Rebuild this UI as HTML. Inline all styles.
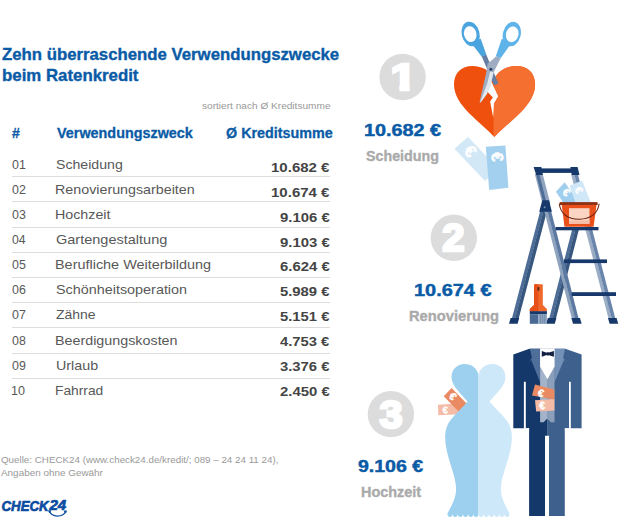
<!DOCTYPE html>
<html lang="de"><head><meta charset="utf-8"><title>Zehn überraschende Verwendungszwecke beim Ratenkredit</title>
<style>
html,body{margin:0;padding:0;background:#fff}
body{width:630px;height:530px;position:relative;overflow:hidden;font-family:'Liberation Sans', sans-serif}
.t{position:absolute;white-space:nowrap;line-height:1;display:block;transform-origin:0 0}
.ln{position:absolute;left:12px;width:318px;height:1px;background:#dddddd;display:block}
svg{position:absolute;left:0;top:0}
.g{display:contents}
</style></head><body>
<svg width="630" height="530" viewBox="0 0 630 530" font-family="'Liberation Sans', sans-serif">
<defs>
<clipPath id="hr"><rect x="493.6" y="60" width="50" height="90"/></clipPath>
</defs>
<!-- number circles -->
<defs><clipPath id="nofoot"><path d="M-14,-34 H14 V-5.9 H5 V3 H-3.2 V-5.9 H-14Z"/></clipPath></defs>
<g fill="#dcdcdc">
<circle cx="402.6" cy="77" r="23.2"/>
<circle cx="453.8" cy="237.8" r="23.2"/>
<circle cx="390.9" cy="414.1" r="23.2"/>
</g>
<g fill="#fff" stroke="#fff" stroke-width="2.6" stroke-linejoin="miter" font-weight="700" font-size="37.6" text-anchor="middle">
<text transform="translate(403.4,90.2) scale(1.24,1)" clip-path="url(#nofoot)">1</text>
<text transform="translate(453.4,251.3) scale(1.02,1)" font-size="39.4">2</text>
<text transform="translate(391.2,427.8) scale(1.06,1)" font-size="39.4">3</text>
</g>

<!-- ===== 1: heart, scissors, notes ===== -->
<g id="heart">
<path id="hp" d="M494.3,137 C481,122 454,106 454,84.5 C454,72.5 462,66 472,66 C483,66 490.5,71 494.3,79 C498,71 506,66 517,66 C527,66 535.1,72.5 535.1,84.5 C535.1,106 508,122 494.3,137Z" fill="#f0500d"/>
<path d="M494.3,137 C481,122 454,106 454,84.5 C454,72.5 462,66 472,66 C483,66 490.5,71 494.3,79 C498,71 506,66 517,66 C527,66 535.1,72.5 535.1,84.5 C535.1,106 508,122 494.3,137Z" fill="#f56f30" clip-path="url(#hr)"/>
<path d="M491,80.5 L493.9,87.3 L498.1,96.2 L494,103.3 L493.2,117.4 L490.1,101.4 L492.9,97.6 L486.3,90.6 L490.3,82.5Z" fill="#fff"/>
</g>
<g id="scissors">
<!-- dark shank + blade (upper-left handle -> lower-right) -->
<path d="M481.6,56 L486.2,54.6 L498.4,83.4 L494,85.2 Z" fill="#647fa3"/>
<!-- light piece (upper-right handle -> lower-left blade) -->
<path d="M496,56.4 L501,57.6 L493.6,72.4 L490.8,84.4 L486.9,93.9 L480.6,102.6 L479.5,102.2 L483.5,84.4 L486.4,72 L487.6,63.5 L491.5,60.5 Z" fill="#9fadc3"/>
<path d="M490.2,71.5 L493.6,72.4 L490.8,84.4 L486.9,93.9 L480.6,102.6 L480,102.4 L484.4,91 L487.4,83Z" fill="#e3e8ee"/>
<circle cx="490.9" cy="69.3" r="1.5" fill="#26426b"/>
<!-- handles -->
<g fill="#4aa5df">
<ellipse cx="470.6" cy="33.9" rx="8.9" ry="12.4" transform="rotate(-14 470.6 33.9)"/>
<path d="M471.6,43.6 L480.6,38.6 L486.4,54.8 L481.6,56.4Z"/>
</g>
<g fill="#5eb3e8">
<ellipse cx="511.8" cy="34.1" rx="8.9" ry="12.4" transform="rotate(14 511.8 34.1)"/>
<path d="M510.8,43.8 L501.8,38.8 L495.8,56.2 L501,57.8Z"/>
</g>
<g fill="#fff">
<ellipse cx="470.2" cy="34.1" rx="6.2" ry="8" transform="rotate(-14 470.2 34.1)"/>
<ellipse cx="512.2" cy="34.3" rx="6.2" ry="8" transform="rotate(14 512.2 34.3)"/>
</g>
</g>
<g id="notes1">
<path d="M454.4,148.8 L468,136.9 L498.6,169.1 L485,181Z" fill="#d3e8f6"/>
<path d="M485.8,146.7 L505.4,145.4 L508.4,187.8 L489.2,189.9Z" fill="#a3d0ee"/>
<g fill="#fff" stroke="#fff" stroke-width="0.5" font-weight="700" font-size="16.6" text-anchor="middle">
<text transform="translate(470.5,151.2) rotate(47)" y="5.8">€</text>
<text transform="translate(497.4,157) rotate(86)" y="5.8">€</text>
</g>
</g>
<!-- ===== 2: ladder, bucket, brush ===== -->
<g id="ladder">
<path d="M541.5,206 L544.9,206 L514.9,320 L511.5,320Z" fill="#4d6d97"/><path d="M544.7,206 L548.3,206 L518.3,320 L514.7,320Z" fill="#38577f"/>
<path d="M572.0,230 L575.4,230 L552.2,320 L548.8,320Z" fill="#4d6d97"/><path d="M575.2,230 L578.8,230 L555.6,320 L552.0,320Z" fill="#38577f"/>
<path d="M534.8,174 L538.2,174 L575.6,320 L572.2,320Z" fill="#8fa3be"/><path d="M538.0,174 L541.6,174 L579.0,320 L575.4,320Z" fill="#5b79a1"/>
<path d="M571.0,174 L574.4,174 L612.3,320 L608.9,320Z" fill="#9aadc5"/><path d="M574.2,174 L577.8,174 L615.7,320 L612.1,320Z" fill="#6985ab"/>
<path d="M536.1,174 L539.4,174 L547.1,204 L543.8,204Z" fill="#4d6d97"/><path d="M539.2,174 L542.7,174 L550.4,204 L546.9,204Z" fill="#8fa3be"/>
<g fill="#17386a">
<path d="M510.6,317.9 L519.2,317.9 L517.6,323.8 L509,323.8Z"/>
<path d="M547.8,317.9 L556.4,317.9 L554.8,323.8 L546.2,323.8Z"/>
<path d="M571.4,317.9 L580,317.9 L581.6,323.8 L573,323.8Z"/>
<path d="M608,317.9 L616.6,317.9 L618.2,323.8 L609.6,323.8Z"/>
<rect x="564" y="259.4" width="43" height="3.7"/>
<rect x="571.7" y="292.2" width="44.3" height="3.8"/>
<rect x="555.5" y="227" width="43" height="3.3"/>
<path d="M542.3,200.2 L549,200.2 L551.9,211.8 L539.2,211.8Z"/>
<rect x="541" y="168.4" width="31" height="4.5"/>
<path d="M533.6,167.1 L541.4,167.1 L542.9,175.1 L536.2,175.1Z"/>
<path d="M570.4,167.1 L577.6,167.1 L579.5,175.1 L571.8,175.1Z"/>
</g>
<circle cx="544.7" cy="207.2" r="1" fill="#6f88ad"/>
</g>
<g id="bucket">
<path d="M555.9,191.8 L564.7,182.3 L579,203 L563.5,203Z" fill="#9fceee"/>
<path d="M569.6,185.7 L582.1,180.4 L591,203 L575.6,203Z" fill="#d0e7f7"/>
<g fill="#fff" stroke="#fff" stroke-width="0.4" font-weight="700" font-size="9.6" text-anchor="middle">
<text transform="translate(566.3,192.4) rotate(40)" y="3.7" font-size="10.6">€</text>
<text transform="translate(579.1,190) rotate(68)" y="3.7" font-size="10.6">€</text>
</g>
<path d="M561.7,204.6 L596.6,204.6 L593.6,226.8 L564.5,226.8Z" fill="#e9501a"/>
<rect x="559.6" y="202.1" width="38" height="2.9" fill="#8f3216"/>
<rect x="569" y="208.2" width="20.5" height="15.6" fill="#fbd5c4"/>
<rect x="569" y="220.6" width="20.5" height="3.2" fill="#f6bda7"/>
<path d="M559.3,203.8 C560.4,213.5 567.5,219.4 579.4,219.2 C591,219 598,213 599.1,203.8" fill="none" stroke="#6b2412" stroke-width="1.1"/>
</g>
<g id="brush">
<path d="M534,285.4 C534,284.6 534.6,284.3 535.2,284.3 L541.6,284.3 C542.3,284.3 542.8,284.6 542.8,285.4 L542.8,305 L546.9,309 L546.9,311.4 L529.8,311.4 L529.8,309 L534,305Z" fill="#f0682c"/>
<path d="M534,285.4 C534,284.6 534.6,284.3 535.2,284.3 L538.4,284.3 L538.4,311.4 L529.8,311.4 L529.8,309 L534,305Z" fill="#e8501a"/>
<rect x="537.4" y="287" width="2.1" height="3.8" rx="0.8" fill="#5a2a1a"/>
<rect x="529.8" y="311.2" width="17.1" height="3.2" fill="#17386a"/>
<rect x="529.8" y="314.3" width="8.6" height="9.5" fill="#4a6a93"/>
<rect x="538.4" y="314.3" width="8.5" height="9.5" fill="#8da2bd"/>
<g stroke="#6d87a9" stroke-width="0.7"><path d="M540.5,314.3V323.8M542.6,314.3V323.8M544.7,314.3V323.8"/></g>
</g>
<!-- ===== 3: bride & groom ===== -->
<g id="bride">
<path d="M437.9,404.8 L458,403.6 L458.6,414.2 L438.4,415.2Z" fill="#f4bca7"/>
<path d="M443.7,396.2 L451.6,387.9 L469.5,406.5 L461.2,414.2Z" fill="#e98a62"/>
<g fill="#fff" stroke="#fff" stroke-width="0.4" font-weight="700" font-size="9.6" text-anchor="middle">
<text transform="translate(453,396.2) rotate(46)" y="3.7" font-size="10.6">€</text>
<text transform="translate(445.2,410) rotate(-3)" y="3.4" font-size="9.6">€</text>
</g>
<path d="M478.5,374.5 C476.5,368 471.5,364 464.5,364 C457,364 451.6,369.5 451.6,377 C451.6,384 456,389 467.5,401.4 C463,407 452,417 448.5,423 C446.2,427.5 445.1,432 445.1,437 C445.1,456 456.1,474 456.1,489 C456.1,499 450.5,507 447.4,513.6 a2.59,3.4 0 0 0 5.18,0 a2.59,3.4 0 0 0 5.18,0 a2.59,3.4 0 0 0 5.18,0 a2.59,3.4 0 0 0 5.18,0 a2.59,3.4 0 0 0 5.18,0 a2.59,3.4 0 0 0 5.18,0 Z" fill="#9dd0ef"/>
<path d="M 478.5,374.5 C 480.5,368 485.5,364 492.5,364 C 500.0,364 505.4,369.5 505.4,377 C 505.4,384 501,389 489.5,401.4 C 494,407 505,417 508.5,423 C 510.8,427.5 511.9,432 511.9,437 C 511.9,456 500.9,474 500.9,489 C 500.9,499 506.5,507 509.6,513.6 a2.59,3.4 0 0 1 -5.18,0 a2.59,3.4 0 0 1 -5.18,0 a2.59,3.4 0 0 1 -5.18,0 a2.59,3.4 0 0 1 -5.18,0 a2.59,3.4 0 0 1 -5.18,0 a2.59,3.4 0 0 1 -5.18,0 Z" fill="#cde8f8"/>
</g>
<g id="groom">
<path d="M529.4,348.8 L547.3,348.8 L547.3,435.7 L545,435.7 L545,515.9 L529.1,515.9 L529.1,428.3 L513.3,428.3 L513.3,354.5Z" fill="#15386a"/>
<path d="M565.2,348.8 L547.1,348.8 L547.1,435.7 L549,435.7 L549,515.9 L564.8,515.9 L564.8,428.3 L581.6,428.3 L581.6,354.5Z" fill="#3e608c"/>
<rect x="523.9" y="381.8" width="1.9" height="47" fill="#fff"/>
<rect x="569" y="381.8" width="1.8" height="47" fill="#fff"/>
<rect x="525.7" y="428.3" width="3.4" height="2" fill="#fff"/>
<rect x="564.8" y="428.3" width="4.4" height="2" fill="#fff"/>
<path d="M529.9,348.8 L540.2,348.8 L540.2,382.5 L531.2,360 L529.4,361.6 L531.9,357.8Z" fill="#4f6f9a"/>
<path d="M565.1,348.8 L554.4,348.8 L554.4,382.5 L563.9,360 L565.7,361.6 L563.1,357.8Z" fill="#7391b7"/>
<path d="M540.1,348.8 L547.3,348.8 L547.3,418.4 L543.6,422.3 L540.1,422.3Z" fill="#a3b3c9"/>
<path d="M554.5,348.8 L547.1,348.8 L547.1,418.4 L550.8,422.3 L554.5,422.3Z" fill="#8c9fba"/>
<path d="M540.1,348.6 L554.6,348.6 L554.6,366.6 L547.4,379.2 L540.1,366.6Z" fill="#fff"/>
<path d="M541.8,351 L547.4,353 L553.9,351 L553.9,356.7 L547.4,354.7 L541.8,356.7Z" fill="#121f42"/>
<rect x="546.6" y="352.3" width="2.4" height="3.1" rx="0.7" fill="#121f42"/>
<path d="M535,400.3 L554.4,399.1 L554.4,410.6 L536.2,411.4Z" fill="#f4bca7"/>
<path d="M535,384.5 L554.4,389.6 L554.4,399.6 L532,395.4Z" fill="#e98a62"/>
<g fill="#fff" stroke="#fff" stroke-width="0.4" font-weight="700" font-size="10.5" text-anchor="middle">
<text transform="translate(541.1,393.1) rotate(14)" y="3.7">€</text>
<text transform="translate(542.3,405.4) rotate(-3)" y="3.7">€</text>
</g>
</g>
<!-- ===== logo ===== -->
<g id="logo" fill="#0c4da2" font-weight="700" font-style="italic" stroke="#0c4da2" stroke-width="0.7" stroke-linejoin="round">
<text x="1.5" y="511.1" font-size="14.3" textLength="47.2" lengthAdjust="spacingAndGlyphs">CHECK</text>
<text x="49.4" y="509.8" font-size="14.2" textLength="16.8" lengthAdjust="spacingAndGlyphs">24</text>
<path d="M49.6,511.6 C52,517.4 62.4,517.6 65.6,511.8" fill="none" stroke="#0c4da2" stroke-width="1.3"/>
<path d="M48.4,510.6 L51,510.8 L49.6,513Z M66.6,510.8 L64,511 L65.6,513.2Z"/>
</g>
</svg>

<i class="ln" style="top:176.2px"></i>
<i class="ln" style="top:201.4px"></i>
<i class="ln" style="top:226.6px"></i>
<i class="ln" style="top:251.8px"></i>
<i class="ln" style="top:277.0px"></i>
<i class="ln" style="top:302.1px"></i>
<i class="ln" style="top:327.3px"></i>
<i class="ln" style="top:352.5px"></i>
<i class="ln" style="top:377.7px"></i>
<header class="g title">
<span class="t" style="left:2.04px;top:46.12px;font-size:16.4px;font-weight:700;color:#0a5ba6;transform:scaleX(1.0226);-webkit-text-stroke:0.35px #0a5ba6">Zehn überraschende Verwendungszwecke</span>
<span class="t" style="left:1.55px;top:67.12px;font-size:16.4px;font-weight:700;color:#0a5ba6;transform:scaleX(1.0261);-webkit-text-stroke:0.35px #0a5ba6">beim Ratenkredit</span>
<span class="t" style="left:202.24px;top:101.53px;font-size:9.3px;font-weight:400;color:#999;transform:scaleX(1.0863);">sortiert nach Ø Kreditsumme</span>
</header>
<section class="g thead">
<span class="t" style="left:11.68px;top:125.81px;font-size:14.4px;font-weight:700;color:#0a5ba6;transform:scaleX(0.9804);-webkit-text-stroke:0.3px #0a5ba6">#</span>
<span class="t" style="left:57.00px;top:125.81px;font-size:14.4px;font-weight:700;color:#0a5ba6;transform:scaleX(0.9990);-webkit-text-stroke:0.3px #0a5ba6">Verwendungszweck</span>
<span class="t" style="left:225.55px;top:125.81px;font-size:14.4px;font-weight:700;color:#0a5ba6;transform:scaleX(0.9961);-webkit-text-stroke:0.3px #0a5ba6">Ø Kreditsumme</span>
</section>
<section class="g tbody">
<span class="t" style="left:11.51px;top:157.77px;font-size:13.5px;font-weight:400;color:#585858;transform:scaleX(0.9183);">01</span>
<span class="t" style="left:56.06px;top:157.77px;font-size:13.5px;font-weight:400;color:#585858;transform:scaleX(1.0460);">Scheidung</span>
<span class="t" style="left:270.86px;top:161.07px;font-size:13.5px;font-weight:700;color:#444;transform:scaleX(1.1128);">10.682 €</span>
<span class="t" style="left:11.51px;top:182.88px;font-size:13.5px;font-weight:400;color:#585858;transform:scaleX(0.9183);">02</span>
<span class="t" style="left:55.38px;top:182.88px;font-size:13.5px;font-weight:400;color:#585858;transform:scaleX(1.0578);">Renovierungsarbeiten</span>
<span class="t" style="left:270.86px;top:185.92px;font-size:13.5px;font-weight:700;color:#444;transform:scaleX(1.1128);">10.674 €</span>
<span class="t" style="left:11.51px;top:207.99px;font-size:13.5px;font-weight:400;color:#585858;transform:scaleX(0.9183);">03</span>
<span class="t" style="left:55.39px;top:207.99px;font-size:13.5px;font-weight:400;color:#585858;transform:scaleX(1.0560);">Hochzeit</span>
<span class="t" style="left:279.63px;top:210.77px;font-size:13.5px;font-weight:700;color:#444;transform:scaleX(1.1035);">9.106 €</span>
<span class="t" style="left:11.52px;top:233.10px;font-size:13.5px;font-weight:400;color:#585858;transform:scaleX(0.9048);">04</span>
<span class="t" style="left:55.82px;top:233.10px;font-size:13.5px;font-weight:400;color:#585858;transform:scaleX(1.0746);">Gartengestaltung</span>
<span class="t" style="left:279.63px;top:235.62px;font-size:13.5px;font-weight:700;color:#444;transform:scaleX(1.1035);">9.103 €</span>
<span class="t" style="left:11.51px;top:258.21px;font-size:13.5px;font-weight:400;color:#585858;transform:scaleX(0.9183);">05</span>
<span class="t" style="left:55.37px;top:258.21px;font-size:13.5px;font-weight:400;color:#585858;transform:scaleX(1.0682);">Berufliche Weiterbildung</span>
<span class="t" style="left:279.63px;top:260.47px;font-size:13.5px;font-weight:700;color:#444;transform:scaleX(1.1035);">6.624 €</span>
<span class="t" style="left:11.51px;top:283.32px;font-size:13.5px;font-weight:400;color:#585858;transform:scaleX(0.9183);">06</span>
<span class="t" style="left:56.05px;top:283.32px;font-size:13.5px;font-weight:400;color:#585858;transform:scaleX(1.0647);">Schönheitsoperation</span>
<span class="t" style="left:279.87px;top:285.32px;font-size:13.5px;font-weight:700;color:#444;transform:scaleX(1.0983);">5.989 €</span>
<span class="t" style="left:11.51px;top:308.43px;font-size:13.5px;font-weight:400;color:#585858;transform:scaleX(0.9183);">07</span>
<span class="t" style="left:56.06px;top:308.43px;font-size:13.5px;font-weight:400;color:#585858;transform:scaleX(1.0346);">Zähne</span>
<span class="t" style="left:279.87px;top:310.17px;font-size:13.5px;font-weight:700;color:#444;transform:scaleX(1.0983);">5.151 €</span>
<span class="t" style="left:11.51px;top:333.54px;font-size:13.5px;font-weight:400;color:#585858;transform:scaleX(0.9183);">08</span>
<span class="t" style="left:55.38px;top:333.54px;font-size:13.5px;font-weight:400;color:#585858;transform:scaleX(1.0601);">Beerdigungskosten</span>
<span class="t" style="left:280.10px;top:335.02px;font-size:13.5px;font-weight:700;color:#444;transform:scaleX(1.0931);">4.753 €</span>
<span class="t" style="left:11.51px;top:358.65px;font-size:13.5px;font-weight:400;color:#585858;transform:scaleX(0.9183);">09</span>
<span class="t" style="left:55.61px;top:358.65px;font-size:13.5px;font-weight:400;color:#585858;transform:scaleX(1.0579);">Urlaub</span>
<span class="t" style="left:279.87px;top:359.87px;font-size:13.5px;font-weight:700;color:#444;transform:scaleX(1.0983);">3.376 €</span>
<span class="t" style="left:11.11px;top:383.76px;font-size:13.5px;font-weight:400;color:#585858;transform:scaleX(0.9323);">10</span>
<span class="t" style="left:55.42px;top:383.76px;font-size:13.5px;font-weight:400;color:#585858;transform:scaleX(1.0207);">Fahrrad</span>
<span class="t" style="left:279.63px;top:384.72px;font-size:13.5px;font-weight:700;color:#444;transform:scaleX(1.1035);">2.450 €</span>
</section>
<footer class="g source">
<span class="t" style="left:0.54px;top:455.81px;font-size:9.2px;font-weight:400;color:#999;transform:scaleX(1.0658);">Quelle: CHECK24 (www.check24.de/kredit/; 089 – 24 24 11 24),</span>
<span class="t" style="left:0.80px;top:468.91px;font-size:9.2px;font-weight:400;color:#999;transform:scaleX(1.0784);">Angaben ohne Gewähr</span>
</footer>
<aside class="g top3">
<span class="t" style="left:363.66px;top:121.63px;font-size:16.5px;font-weight:700;color:#0a5ba6;transform:scaleX(1.2008);-webkit-text-stroke:0.45px #0a5ba6">10.682 €</span>
<span class="t" style="left:366.28px;top:148.63px;font-size:14.5px;font-weight:700;color:#aaa;transform:scaleX(0.9841);-webkit-text-stroke:0.35px #aaa">Scheidung</span>
<span class="t" style="left:414.36px;top:281.63px;font-size:16.5px;font-weight:700;color:#0a5ba6;transform:scaleX(1.2071);-webkit-text-stroke:0.45px #0a5ba6">10.674 €</span>
<span class="t" style="left:408.88px;top:309.13px;font-size:14.5px;font-weight:700;color:#aaa;transform:scaleX(1.0140);-webkit-text-stroke:0.35px #aaa">Renovierung</span>
<span class="t" style="left:358.19px;top:457.53px;font-size:16.5px;font-weight:700;color:#0a5ba6;transform:scaleX(1.1824);-webkit-text-stroke:0.45px #0a5ba6">9.106 €</span>
<span class="t" style="left:360.70px;top:484.73px;font-size:14.5px;font-weight:700;color:#aaa;transform:scaleX(0.9959);-webkit-text-stroke:0.35px #aaa">Hochzeit</span>
</aside>
</body></html>
